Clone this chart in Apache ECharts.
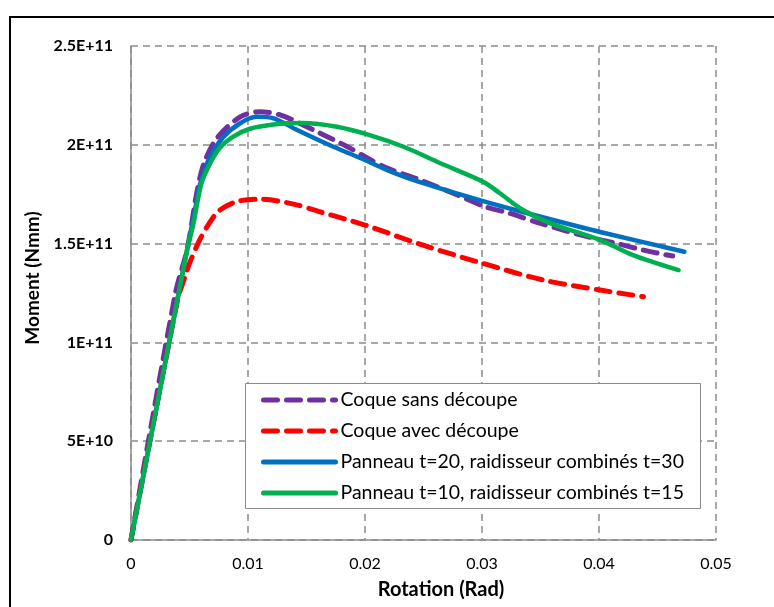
<!DOCTYPE html>
<html>
<head>
<meta charset="utf-8">
<script src="https://cdn.jsdelivr.net/npm/echarts@6/dist/echarts.min.js"></script>
<style>
  html, body { margin: 0; padding: 0; background: #fff; }
  #chart { width: 774px; height: 607px; }
</style>
</head>
<body>
<div id="chart"></div>
<script>
// Moment–rotation curves: rotation in rad, moment in N·mm
const seriesNames = [
  'Coque sans découpe',
  'Coque avec découpe',
  'Panneau t=20, raidisseur combinés t=30',
  'Panneau t=10, raidisseur combinés t=15'
];

const sansDecoupe = [
  [0, 0], [0.0038, 1.25e11], [0.0048, 1.47e11], [0.0056, 1.75e11], [0.0062, 1.90e11],
  [0.0073, 2.03e11], [0.0093, 2.14e11], [0.0110, 2.167e11], [0.0128, 2.15e11],
  [0.0156, 2.075e11], [0.0185, 1.99e11], [0.0202, 1.933e11], [0.0219, 1.882e11],
  [0.0247, 1.822e11], [0.0279, 1.746e11], [0.0301, 1.69e11], [0.0324, 1.653e11],
  [0.0350, 1.602e11], [0.0390, 1.535e11], [0.0415, 1.501e11], [0.0438, 1.467e11],
  [0.0463, 1.437e11]
];

const avecDecoupe = [
  [0, 0], [0.0040, 1.22e11], [0.0046, 1.33e11], [0.0050, 1.40e11], [0.0058, 1.51e11],
  [0.0066, 1.595e11], [0.0075, 1.665e11], [0.0090, 1.712e11], [0.0110, 1.725e11],
  [0.0139, 1.70e11], [0.0162, 1.66e11], [0.0200, 1.594e11], [0.0247, 1.497e11],
  [0.0296, 1.408e11], [0.0352, 1.316e11], [0.0401, 1.265e11], [0.0438, 1.231e11]
];

const panneau20 = [
  [0, 0], [0.0048, 1.47e11], [0.0055, 1.68e11], [0.0059, 1.80e11], [0.00675, 1.94e11],
  [0.0079, 2.04e11], [0.0093, 2.108e11], [0.0107, 2.142e11], [0.0122, 2.134e11],
  [0.0142, 2.075e11], [0.0173, 1.99e11], [0.0196, 1.933e11], [0.0219, 1.872e11],
  [0.0245, 1.815e11], [0.0298, 1.72e11], [0.0338, 1.655e11], [0.0401, 1.559e11],
  [0.0473, 1.459e11]
];

const panneau10 = [
  [0, 0], [0.0048, 1.47e11], [0.0053, 1.59e11], [0.0060, 1.80e11], [0.0068, 1.91e11],
  [0.0076, 1.985e11], [0.0087, 2.04e11], [0.0101, 2.08e11], [0.0122, 2.103e11],
  [0.0147, 2.11e11], [0.0176, 2.091e11], [0.0204, 2.049e11], [0.0233, 1.99e11],
  [0.0264, 1.908e11], [0.0301, 1.813e11], [0.0315, 1.756e11], [0.0335, 1.67e11],
  [0.0358, 1.604e11], [0.0401, 1.518e11], [0.0429, 1.442e11], [0.0468, 1.366e11]
];

const xTickLabels = ['0', '0.01', '0.02', '0.03', '0.04', '0.05'];
const yTickLabels = ['0', '5E+10', '1E+11', '1.5E+11', '2E+11', '2.5E+11'];

const FONT = 'Lato';
const chart = echarts.init(document.getElementById('chart'), null, { renderer: 'canvas' });

function curve(name, data, color, dashed) {
  return {
    name: name,
    type: 'line',
    data: data,
    symbol: 'none',
    smooth: 0.3,
    z: dashed ? 3 : 4,
    lineStyle: {
      color: color,
      width: dashed ? 5 : 4.5,
      type: dashed ? [14, 9] : 'solid',
      cap: 'round',
      join: 'round'
    },
    itemStyle: { color: color }
  };
}

chart.setOption({
  animation: false,
  backgroundColor: '#ffffff',
  grid: { left: 131, top: 46, width: 585, height: 494, containLabel: false },
  xAxis: {
    type: 'value',
    min: 0, max: 0.05, interval: 0.01,
    name: 'Rotation (Rad)',
    nameLocation: 'middle',
    nameGap: 40,
    nameTextStyle: {
      fontFamily: FONT, fontWeight: 'bold', fontSize: 20, color: '#000',
      padding: [0, 0, 0, 35]
    },
    axisLine: { show: true, lineStyle: { color: '#8c8c8c', width: 1.5 } },
    axisTick: { show: false },
    axisLabel: {
      margin: 16, fontFamily: FONT, fontSize: 16, color: '#000',
      formatter: function (v) { return xTickLabels[Math.round(v / 0.01)]; }
    },
    splitLine: { show: true, lineStyle: { color: '#8c8c8c', width: 1.5, type: [7, 5] } }
  },
  yAxis: {
    type: 'value',
    min: 0, max: 2.5e11, interval: 5e10,
    name: 'Moment (Nmm)',
    nameLocation: 'middle',
    nameGap: 88,
    nameTextStyle: {
      fontFamily: FONT, fontWeight: 'bold', fontSize: 19, color: '#000',
      padding: [0, 0, 0, 30]
    },
    axisLine: { show: true, lineStyle: { color: '#8c8c8c', width: 1.5 } },
    axisTick: { show: false },
    axisLabel: {
      margin: 18, fontFamily: FONT, fontWeight: 'bold', fontSize: 16, color: '#000',
      formatter: function (v) { return yTickLabels[Math.round(v / 5e10)]; }
    },
    splitLine: { show: true, lineStyle: { color: '#8c8c8c', width: 1.5, type: [7, 5] } }
  },
  legend: {
    orient: 'vertical',
    left: 245, top: 383,
    padding: [7, 10, 7, 16],
    itemWidth: 72, itemHeight: 14, itemGap: 11,
    itemStyle: { opacity: 0 },
    lineStyle: { width: 5, cap: 'round' },
    textStyle: { fontFamily: FONT, fontSize: 19.5, color: '#000', padding: [0, 0, 0, 0] },
    data: seriesNames
  },
  graphic: [
    {
      type: 'rect', silent: true, z: -1,
      shape: { x: 10, y: 17, width: 800, height: 620 },
      style: { fill: null, stroke: '#000', lineWidth: 2 }
    },
    {
      type: 'rect', silent: true, z: 2,
      shape: { x: 245.5, y: 383.5, width: 455, height: 125 },
      style: { fill: '#fff', stroke: '#8c8c8c', lineWidth: 1 }
    }
  ],
  series: [
    curve(seriesNames[0], sansDecoupe, '#7030a0', true),
    curve(seriesNames[1], avecDecoupe, '#ff0000', true),
    curve(seriesNames[2], panneau20, '#0070c0', false),
    curve(seriesNames[3], panneau10, '#00b050', false)
  ]
});
</script>
</body>
</html>
